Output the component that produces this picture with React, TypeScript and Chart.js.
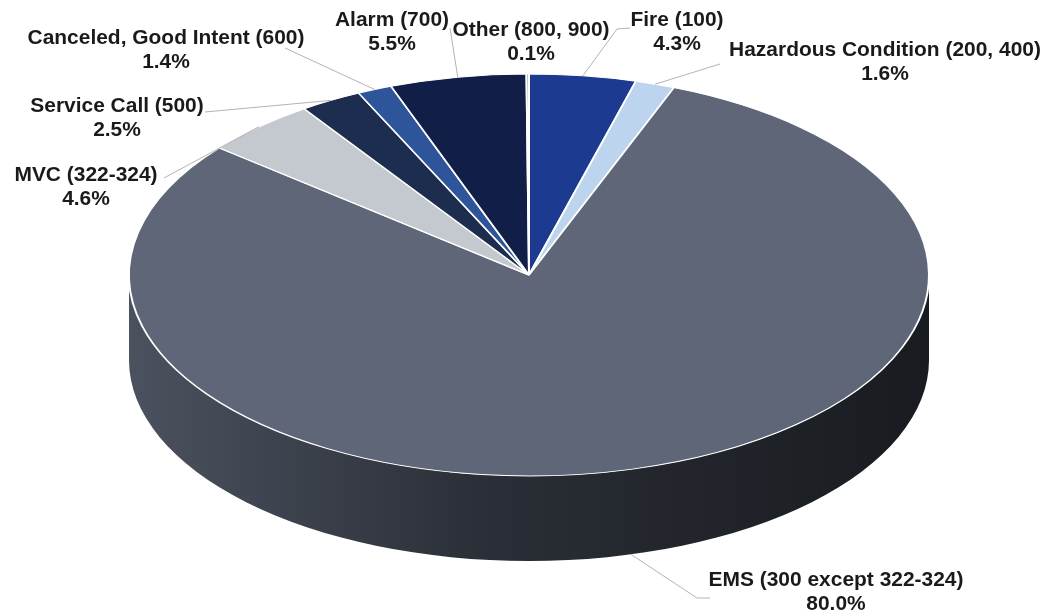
import React, { useEffect, useRef } from "react";
import { Chart, registerables } from "chart.js";

Chart.register(...registerables);

// ---- data ----
const categories = [
  "Fire (100)",
  "Hazardous Condition (200, 400)",
  "EMS (300 except 322-324)",
  "MVC (322-324)",
  "Service Call (500)",
  "Canceled, Good Intent (600)",
  "Alarm (700)",
  "Other (800, 900)",
];
const shares = [4.3, 1.6, 80.0, 4.6, 2.5, 1.4, 5.5, 0.1];
const percentLabels = ["4.3%", "1.6%", "80.0%", "4.6%", "2.5%", "1.4%", "5.5%", "0.1%"];

// ---- styles / layout ----
const sliceColors = ["#1c3a8f", "#bcd4ee", "#5e6677", "#c4c8cf", "#1d2d50", "#2e5599", "#111e47", "#7a7f8a"];
const labelCenters: number[][] = [
  [677, 20], [885, 50], [836, 580], [86, 175], [117, 106], [166, 38], [392, 20], [531, 30],
];
const leaderStarts: number[][][] = [
  [[630, 28], [617, 29]],
  [[720, 64]],
  [[710, 598], [697, 598]],
  [[164, 178]],
  [[205, 112]],
  [[285, 48]],
  [[450, 28]],
  [],
];

const RX = 400;
const RY = 201;
const DEPTH = 85;
const FONT = '"Liberation Sans", Arial, sans-serif';

function shade(hex: string, f: number): string {
  const n = parseInt(hex.slice(1), 16);
  const r = Math.round(((n >> 16) & 255) * f);
  const g = Math.round(((n >> 8) & 255) * f);
  const b = Math.round((n & 255) * f);
  return `rgb(${r},${g},${b})`;
}

const pie3d = {
  id: "pie3d",
  beforeDatasetsDraw(chart: any) {
    const meta = chart.getDatasetMeta(0);
    const ctx: CanvasRenderingContext2D = chart.ctx;
    const a0 = meta.data[0];
    const cx = a0.x, cy = a0.y, r = a0.outerRadius;
    const ry = RY;
    meta.data.forEach((arc: any, i: number) => {
      for (let m = -1; m <= 1; m++) {
        const a = Math.max(arc.startAngle + 2 * Math.PI * m, 0);
        const b = Math.min(arc.endAngle + 2 * Math.PI * m, Math.PI);
        if (b > a) {
          const g = ctx.createLinearGradient(cx - r, 0, cx + r, 0);
          g.addColorStop(0, shade(sliceColors[i], 0.8));
          g.addColorStop(0.45, shade(sliceColors[i], 0.45));
          g.addColorStop(1, shade(sliceColors[i], 0.26));
          ctx.beginPath();
          ctx.ellipse(cx, cy, r, ry, 0, a, b);
          ctx.ellipse(cx, cy + DEPTH, r, ry, 0, b, a, true);
          ctx.closePath();
          ctx.fillStyle = g;
          ctx.fill();
        }
      }
    });
    ctx.save();
    ctx.translate(cx, cy);
    ctx.scale(1, ry / r);
    ctx.translate(-cx, -cy);
  },
  afterDatasetsDraw(chart: any) {
    const ctx: CanvasRenderingContext2D = chart.ctx;
    ctx.restore();
    const meta = chart.getDatasetMeta(0);
    const a0 = meta.data[0];
    const cx = a0.x, cy = a0.y, r = a0.outerRadius;
    const ry = RY;

    // leader lines
    ctx.save();
    ctx.strokeStyle = "#b3b3b3";
    ctx.lineWidth = 1;
    meta.data.forEach((arc: any, i: number) => {
      const pts = leaderStarts[i];
      if (!pts.length) return;
      const mid = (arc.startAngle + arc.endAngle) / 2;
      const ex = cx + r * Math.cos(mid);
      let ey = cy + ry * Math.sin(mid);
      if (Math.sin(mid) > 0) ey += DEPTH;
      ctx.beginPath();
      ctx.moveTo(pts[0][0], pts[0][1]);
      for (let k = 1; k < pts.length; k++) ctx.lineTo(pts[k][0], pts[k][1]);
      ctx.lineTo(ex, ey);
      ctx.stroke();
    });
    ctx.restore();

    // labels
    ctx.save();
    ctx.font = `bold 100px ${FONT}`;
    const w = ctx.measureText(categories[5]).width;
    const size = (100 * 277) / w;
    ctx.font = `bold ${size.toFixed(2)}px ${FONT}`;
    ctx.fillStyle = "#1a1a1a";
    ctx.textAlign = "center";
    ctx.textBaseline = "middle";
    categories.forEach((c, i) => {
      const [x, y] = labelCenters[i];
      ctx.fillText(c, x, y);
      ctx.fillText(percentLabels[i], x, y + 24);
    });
    ctx.restore();
  },
};

export default function App() {
  const ref = useRef<HTMLCanvasElement | null>(null);
  useEffect(() => {
    if (!ref.current) return;
    const chart = new Chart(ref.current, {
      type: "pie",
      data: {
        labels: categories,
        datasets: [
          {
            data: shares,
            backgroundColor: sliceColors,
            borderColor: "#ffffff",
            borderWidth: 2,
            clip: false as any,
          } as any,
        ],
      },
      options: {
        responsive: false,
        animation: false,
        events: [],
        radius: RX,
        layout: { padding: { left: 11, right: 0, top: 0, bottom: 65 } },
        plugins: { legend: { display: false }, tooltip: { enabled: false } },
      } as any,
      plugins: [pie3d as any],
    });
    return () => chart.destroy();
  }, []);
  return (
    <div style={{ position: "fixed", left: 0, top: 0, width: 1047, height: 615, background: "#fff" }}>
      <canvas ref={ref} width={1047} height={615} style={{ display: "block" }} />
    </div>
  );
}
